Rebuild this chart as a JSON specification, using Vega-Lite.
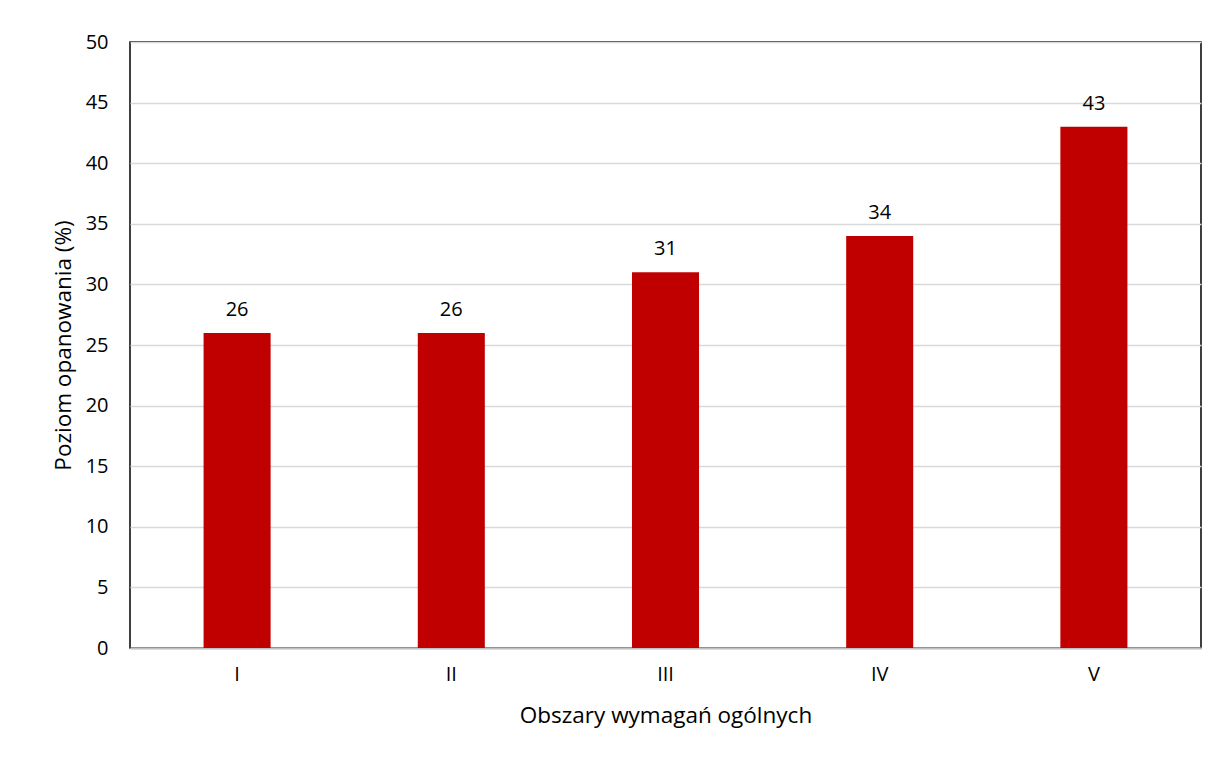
{
  "$schema": "https://vega.github.io/schema/vega-lite/v6.json",
  "width": 1071,
  "height": 606,
  "autosize": {"type": "none"},
  "padding": {"left": 130, "top": 42, "right": 17, "bottom": 110},
  "background": "white",
  "data": {"values": [
    {"obszar": "I", "wartosc": 26},
    {"obszar": "II", "wartosc": 26},
    {"obszar": "III", "wartosc": 31},
    {"obszar": "IV", "wartosc": 34},
    {"obszar": "V", "wartosc": 43}
  ]},
  "encoding": {
    "x": {
      "field": "obszar", "type": "nominal", "sort": null,
      "scale": {"paddingInner": 0.687, "paddingOuter": 0.3435},
      "axis": {
        "title": "Obszary wymagań ogólnych", "labelAngle": 0,
        "labelFontSize": 20, "titleFontSize": 22.5, "labelPadding": 16, "titlePadding": 20,
        "titleFontWeight": "normal", "labelColor": "#000", "titleColor": "#000",
        "domainColor": "#bfbfbf", "domainWidth": 2, "ticks": false,
        "labelFont": "Open Sans", "titleFont": "Open Sans"
      }
    },
    "y": {
      "field": "wartosc", "type": "quantitative",
      "scale": {"domain": [0, 50]},
      "axis": {
        "title": "Poziom opanowania (%)", "values": [0,5,10,15,20,25,30,35,40,45,50],
        "labelFontSize": 20, "titleFontSize": 22.5, "labelPadding": 22, "titlePadding": 10,
        "titleFontWeight": "normal", "labelColor": "#000", "titleColor": "#000",
        "gridColor": "#d9d9d9", "gridWidth": 1.5, "domain": false, "ticks": false,
        "labelFont": "Open Sans", "titleFont": "Open Sans"
      }
    }
  },
  "layer": [
    {"mark": {"type": "bar", "color": "#C00000"}},
    {"mark": {"type": "text", "baseline": "bottom", "dy": -13, "fontSize": 20, "font": "Open Sans", "color": "#000"},
     "encoding": {"text": {"field": "wartosc", "type": "quantitative"}}}
  ],
  "config": {"view": {"stroke": "#000", "strokeWidth": 1.5}}
}
